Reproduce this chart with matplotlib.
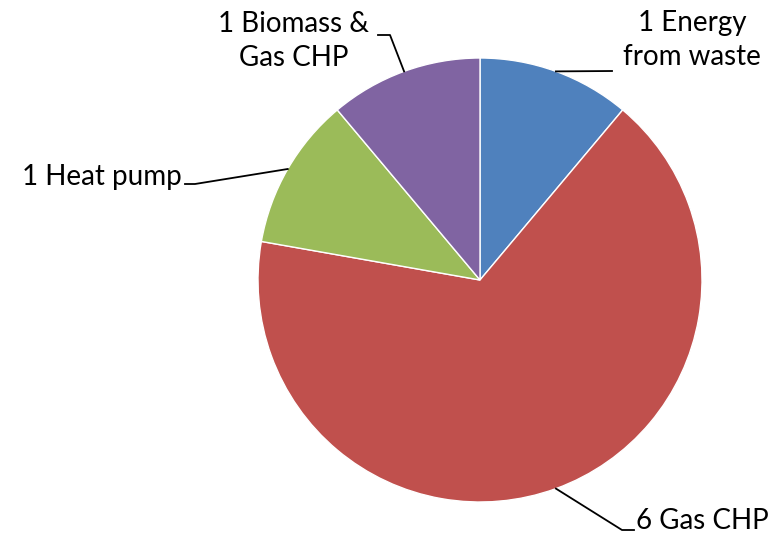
import numpy as np
import matplotlib
matplotlib.use("Agg")
import matplotlib.pyplot as plt

# Sources of heat, counts
labels = ["1 Energy\nfrom waste", "6 Gas CHP", "1 Heat pump", "1 Biomass &\nGas CHP"]
counts = [1, 6, 1, 1]
colors = ["#4F81BD", "#C0504D", "#9BBB59", "#8064A2"]

plt.rcParams['font.family'] = ['Lato', 'DejaVu Sans']

W, H = 776, 534
fig = plt.figure(figsize=(W / 100, H / 100), dpi=100)
ax = fig.add_axes([0, 0, 1, 1])

cx, cy, r = 480, H - 280, 222
wedges, _ = ax.pie(counts, colors=colors, startangle=90, counterclock=False,
                   center=(cx, cy), radius=r, frame=True,
                   wedgeprops=dict(edgecolor='white', linewidth=1))
ax.set_xlim(0, W)
ax.set_ylim(0, H)
ax.set_aspect('equal')
ax.axis('off')

# leader line elbow + text placement (pixel layout)
elbows = [(612, H - 71), (622, H - 530), (195, H - 184), (390, H - 35)]
ends = [(612, H - 71), (634, H - 530), (185, H - 184), (378, H - 35)]
texts = [(692, H - 40, 'center'), (636, H - 521, 'left'),
         (182, H - 177, 'right'), (294, H - 41, 'center')]

for w, el, en in zip(wedges, elbows, ends):
    mid = np.deg2rad((w.theta1 + w.theta2) / 2)
    px, py = cx + r * np.cos(mid), cy + r * np.sin(mid)
    ax.plot([px, el[0], en[0]], [py, el[1], en[1]], color='black', lw=1.3)

for lab, (tx, ty, ha) in zip(labels, texts):
    ax.text(tx, ty, lab, ha=ha, va='center', fontsize=20, linespacing=1.35)

fig.savefig("out.png", dpi=100)
